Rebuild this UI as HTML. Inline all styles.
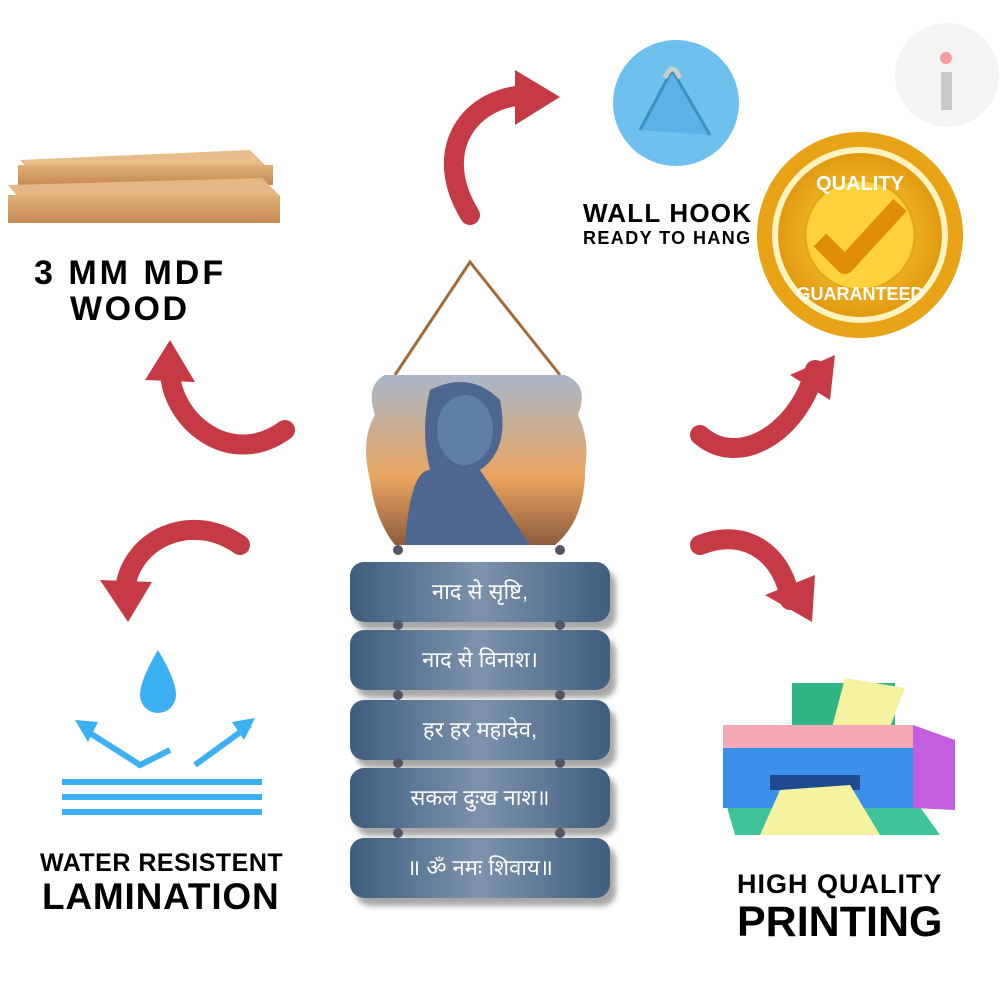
<!DOCTYPE html>
<html><head><meta charset="utf-8"><style>
body{margin:0;width:1000px;height:1000px;background:#fff;position:relative;overflow:hidden;font-family:"Liberation Sans",sans-serif}
.t{position:absolute;font-weight:bold;color:#000;white-space:nowrap}
.plank{position:absolute;left:350px;width:260px;height:60px;border-radius:14px;background:linear-gradient(90deg,#3f5d7e,#7d93ad 50%,#3f5d7e);box-shadow:6px 8px 6px rgba(0,0,0,.35);color:#fff;font-size:22px;text-align:center;line-height:60px;font-family:"Liberation Sans","Noto Sans CJK SC",sans-serif}
.bead{position:absolute;width:10px;height:10px;border-radius:50%;background:#556;}
</style></head><body>
<svg width="1000" height="1000" style="position:absolute;left:0;top:0">
<defs>
<linearGradient id="w" x1="0" y1="0" x2="0" y2="1"><stop offset="0" stop-color="#e2b07a"/><stop offset="1" stop-color="#c38a50"/></linearGradient>
<radialGradient id="g"><stop offset="0" stop-color="#ffd84a"/><stop offset="1" stop-color="#e29a10"/></radialGradient>
<linearGradient id="sk" x1="0" y1="0" x2="0" y2="1"><stop offset="0" stop-color="#a9b7c9"/><stop offset=".6" stop-color="#e9a560"/><stop offset="1" stop-color="#8d5c3e"/></linearGradient>
</defs>
<polygon points="20,160 250,150 270,170 40,182" fill="#e8bd8a"/>
<rect x="18" y="165" width="255" height="20" fill="url(#w)"/>
<polygon points="8,185 262,178 280,196 25,205" fill="#e5b784"/>
<rect x="8" y="195" width="272" height="28" fill="url(#w)"/>
<g fill="none" stroke="#c53a45" stroke-width="20" stroke-linecap="round">
<path d="M470,215 C430,150 470,95 530,95"/>
<path d="M285,430 C230,470 170,420 170,370"/>
<path d="M240,545 C190,510 130,540 125,590"/>
<path d="M700,435 C740,470 800,430 815,370"/>
<path d="M700,545 C750,525 785,560 790,600"/>
</g>
<g fill="#c53a45">
<polygon points="515,70 560,97 515,125"/>
<polygon points="145,380 170,340 195,382"/>
<polygon points="100,580 128,622 152,582"/>
<polygon points="790,375 835,355 830,400"/>
<polygon points="765,595 812,622 815,575"/>
</g>
<circle cx="676" cy="103" r="63" fill="#6ec0ee"/>
<path d="M640,130 L672,70 L710,135" fill="#5ab2e6" stroke="#3f8fc0" stroke-width="3"/>
<path d="M665,78 Q672,60 680,78" stroke="#ccc" stroke-width="5" fill="none"/>
<circle cx="947" cy="75" r="52" fill="#f6f3f3"/>
<rect x="941" y="72" width="11" height="38" fill="#c9c9c9"/>
<circle cx="946" cy="58" r="6" fill="#f1a0a0"/>
<circle cx="860" cy="235" r="103" fill="#e9a316"/>
<circle cx="860" cy="235" r="88" fill="#fff3c0"/>
<circle cx="860" cy="235" r="82" fill="url(#g)"/>
<circle cx="860" cy="235" r="55" fill="#ffd23c" stroke="#e8a814" stroke-width="3"/>
<path d="M820,240 L845,265 L900,205" stroke="#e08d0a" stroke-width="18" fill="none" stroke-linejoin="round"/>
<text x="860" y="190" text-anchor="middle" font-family="Liberation Sans" font-weight="bold" font-size="20" fill="#fff">QUALITY</text>
<text x="860" y="300" text-anchor="middle" font-family="Liberation Sans" font-weight="bold" font-size="18" fill="#fff">GUARANTEED</text>
<path d="M395,375 L470,262 L560,375" stroke="#a36b3a" stroke-width="3" fill="none"/>
<path d="M385,375 Q365,385 375,415 Q360,440 370,480 Q375,520 395,545 L555,545 Q585,520 585,470 Q590,440 578,415 Q590,385 565,375 Z" fill="url(#sk)"/>
<path d="M430,390 Q470,370 500,400 Q510,450 480,470 L530,545 L405,545 Q410,470 430,470 Q420,430 430,390Z" fill="#4d6790"/>
<ellipse cx="465" cy="430" rx="28" ry="35" fill="#5f7fa8"/>
<path d="M158,650 Q140,680 140,695 A18,18 0 0 0 176,695 Q176,680 158,650Z" fill="#3bb0f3"/>
<g stroke="#3bb0f3" stroke-width="6" fill="none">
<path d="M85,730 L140,765 L170,750"/><path d="M250,725 L195,765"/>
<path d="M62,782 H262 M62,797 H262 M62,812 H262"/>
</g>
<polygon points="75,720 98,722 88,742" fill="#3bb0f3"/><polygon points="255,718 232,722 244,740" fill="#3bb0f3"/>
<polygon points="725,800 915,800 940,835 735,835" fill="#3fc39a"/>
<polygon points="792,683 895,683 895,730 792,730" fill="#32b585"/>
<polygon points="845,678 905,688 885,740 830,735" fill="#f5f2a0"/>
<rect x="723" y="725" width="190" height="25" fill="#f6a8b5"/>
<rect x="723" y="748" width="190" height="60" fill="#3a8fe8"/>
<polygon points="913,725 955,740 955,810 913,808" fill="#c45ee0"/>
<rect x="770" y="775" width="90" height="15" fill="#1e4a8f"/>
<polygon points="780,790 850,785 880,835 760,835" fill="#f5f2a0"/>
</svg>
<div class="t" style="left:34px;top:254px;font-size:34px;letter-spacing:3px">3 MM MDF</div>
<div class="t" style="left:70px;top:290px;font-size:34px;letter-spacing:2.5px">WOOD</div>
<div class="t" style="left:583px;top:198px;font-size:26px;letter-spacing:1.2px">WALL HOOK</div>
<div class="t" style="left:583px;top:228px;font-size:18px;letter-spacing:1.4px">READY TO HANG</div>
<div class="t" style="left:40px;top:849px;font-size:25px;letter-spacing:.5px">WATER RESISTENT</div>
<div class="t" style="left:42px;top:876px;font-size:37px;letter-spacing:.8px">LAMINATION</div>
<div class="t" style="left:737px;top:869px;font-size:27px;letter-spacing:1px">HIGH QUALITY</div>
<div class="t" style="left:737px;top:898px;font-size:43px">PRINTING</div>
<div class="plank" style="top:562px">नाद से सृष्टि,</div>
<div class="plank" style="top:630px">नाद से विनाश।</div>
<div class="plank" style="top:700px">हर हर महादेव,</div>
<div class="plank" style="top:768px">सकल दुःख नाश॥</div>
<div class="plank" style="top:838px">॥ ॐ नमः शिवाय॥</div>
<div class="bead" style="left:393px;top:545px"></div><div class="bead" style="left:555px;top:545px"></div>
<div class="bead" style="left:393px;top:620px"></div><div class="bead" style="left:555px;top:620px"></div>
<div class="bead" style="left:393px;top:690px"></div><div class="bead" style="left:555px;top:690px"></div>
<div class="bead" style="left:393px;top:758px"></div><div class="bead" style="left:555px;top:758px"></div>
<div class="bead" style="left:393px;top:828px"></div><div class="bead" style="left:555px;top:828px"></div>
</body></html>
